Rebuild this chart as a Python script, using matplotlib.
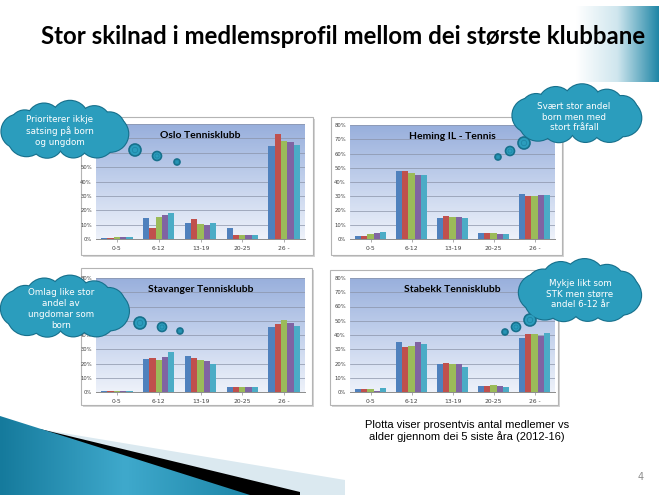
import numpy as np
import matplotlib
matplotlib.use("Agg")
import matplotlib.pyplot as plt
from matplotlib.patches import Rectangle, Circle, Ellipse, Polygon
from matplotlib.colors import LinearSegmentedColormap

W, H = 659, 495

ages = ["0-5", "6-12", "13-19", "20-25", "26 -"]
years = ["2012", "2013", "2014", "2015", "2016"]

# percent of members, rows = age group, columns = year 2012..2016
oslo = [[1.0, 1.0, 1.5, 1.6, 1.5],
        [14.8, 7.5, 15.5, 16.4, 18.4],
        [11.0, 14.0, 10.5, 10.0, 11.0],
        [7.5, 3.0, 3.0, 3.0, 2.5],
        [64.4, 73.2, 68.5, 67.4, 65.5]]
heming = [[1.9, 1.9, 3.8, 4.5, 4.7],
          [47.4, 47.4, 46.5, 45.0, 45.0],
          [15.0, 16.0, 15.7, 15.7, 14.8],
          [4.2, 4.5, 4.0, 3.3, 3.8],
          [31.5, 30.3, 30.3, 30.8, 30.8]]
stavanger = [[0.6, 0.5, 0.7, 0.6, 0.5],
             [23.4, 23.7, 22.5, 24.8, 28.1],
             [25.3, 23.7, 22.5, 21.5, 19.7],
             [3.3, 3.3, 3.3, 3.3, 3.3],
             [45.9, 48.0, 50.4, 48.5, 46.6]]
stabekk = [[2.1, 2.1, 2.1, 1.0, 2.8],
           [34.9, 31.9, 32.3, 35.4, 33.7],
           [19.9, 20.6, 19.9, 19.4, 17.6],
           [4.2, 4.2, 4.9, 4.4, 3.5],
           [38.2, 41.0, 40.7, 39.1, 41.7]]

titles = ["Oslo Tennisklubb", "Heming IL - Tennis",
          "Stavanger Tennisklubb", "Stabekk Tennisklubb"]
notes = [["Prioriterer ikkje", "satsing på born", "og ungdom"],
         ["Svært stor andel", "born men med", "stort fråfall"],
         ["Omlag like stor", "andel av", "ungdomar som", "born"],
         ["Mykje likt som", "STK men større", "andel 6-12 år"]]
# y tick labels hidden behind the callout clouds
hidden_ticks = [[60, 70, 80], [], [50, 60, 70], []]

colors = ["#4F81BD", "#C0504D", "#9BBB59", "#8064A2", "#4BACC6"]
teal = "#2b9dbd"
teal_edge = "#17708c"

fig = plt.figure(figsize=(W / 100, H / 100), dpi=100)
fig.patch.set_facecolor("white")

# background layer in pixel coords
bg = fig.add_axes([0, 0, 1, 1], zorder=0)
bg.set_xlim(0, W)
bg.set_ylim(H, 0)
bg.axis("off")

# top right gradient band
hgrad = np.linspace(0, 1, 256).reshape(1, -1)
bg.imshow(hgrad, extent=[576, W, 82, 6], aspect="auto", zorder=0,
          cmap=LinearSegmentedColormap.from_list("tr", ["white", "#cfe6ee", "#1f86a6"]))

# bottom left swoosh
bg.add_patch(Polygon([(45, 430), (345, 480), (345, 495), (60, 495)], fc="#dbe9f0", ec="none", zorder=1))
bg.add_patch(Polygon([(40, 429), (300, 492), (300, 495), (60, 495)], fc="black", ec="none", zorder=2))
teal_poly = Polygon([(0, 416), (250, 495), (0, 495)], fc="none", ec="none", zorder=3)
bg.add_patch(teal_poly)
im = bg.imshow(hgrad, extent=[0, 250, 495, 416], aspect="auto", zorder=3,
               cmap=LinearSegmentedColormap.from_list("sw", ["#157a9c", "#3fa9cc", "#1d86a8"]))
im.set_clip_path(teal_poly)

bg.text(343, 37, "Stor skilnad i medlemsprofil mellom dei største klubbane",
        ha="center", va="center", fontsize=17.3, fontweight="bold",
        family="Lato", color="black")
bg.text(467, 431, "Plotta viser prosentvis antal medlemer vs\nalder gjennom dei 5 siste åra (2012-16)",
        ha="center", va="center", fontsize=8.0, family="Liberation Sans",
        linespacing=1.1, color="black")
bg.text(641, 477, "4", ha="center", va="center", fontsize=7, color="#8c8c8c")

boxes = [(81, 117, 313, 255), (331, 117, 562, 255),
         (81, 268, 312, 405), (330, 270, 558, 405)]
plots = [(96, 124, 305, 239), (350, 125, 555, 239),
         (96, 278, 305, 392), (350, 278, 555, 392)]
datasets = [oslo, heming, stavanger, stabekk]

vgrad = np.linspace(0, 1, 256).reshape(-1, 1)
pcmap = LinearSegmentedColormap.from_list("pa", ["#98afdc", "#c3d1ec", "#eef2fa"])


def px_axes(x0, y0, x1, y1, z=1):
    return fig.add_axes([x0 / W, 1 - y1 / H, (x1 - x0) / W, (y1 - y0) / H], zorder=z)


for box, pl, title, data, hid in zip(boxes, plots, titles, datasets, hidden_ticks):
    bx0, by0, bx1, by1 = box
    bg.add_patch(Rectangle((bx0 + 1.5, by0 + 1.5), bx1 - bx0, by1 - by0, fc="#d4d4d4", ec="none"))
    bg.add_patch(Rectangle((bx0, by0), bx1 - bx0, by1 - by0, fc="white", ec="#b4b4b4", lw=0.8))

    ax = px_axes(*pl)
    vals = np.array(data)
    x = np.arange(len(ages))
    ax.imshow(vgrad, extent=[-0.5, 4.5, 0, 80], aspect="auto", cmap=pcmap, zorder=0)
    for j in range(len(years)):
        ax.bar(x + (j - 2) * 0.15, vals[:, j], width=0.15, color=colors[j],
               label=years[j], zorder=3)
    ax.set_xlim(-0.5, 4.5)
    ax.set_ylim(0, 80)
    ax.set_yticks(range(0, 81, 10))
    ax.set_yticklabels(["" if v in hid else f"{v}%" for v in range(0, 81, 10)])
    ax.set_xticks(x)
    ax.set_xticklabels(ages)
    ax.yaxis.grid(True, color="#8a93a8", lw=0.5)
    ax.set_axisbelow(True)
    for s in ["top", "right", "left"]:
        ax.spines[s].set_visible(False)
    ax.spines["bottom"].set_color("#8c8c8c")
    ax.spines["bottom"].set_linewidth(0.7)
    ax.tick_params(axis="y", length=0, pad=3, labelsize=3.8, labelcolor="#404040")
    ax.tick_params(axis="x", length=2, width=0.5, color="#8c8c8c", pad=3,
                   labelsize=4.3, labelcolor="#404040")
    ax.text(0.5, 0.94, title, transform=ax.transAxes, ha="center", va="top",
            fontsize=7.5, fontweight="bold", family="Lato", zorder=5)

# overlay for callout clouds
ov = fig.add_axes([0, 0, 1, 1], zorder=5)
ov.set_xlim(0, W)
ov.set_ylim(H, 0)
ov.axis("off")


def cloud(cx, cy, w, h, lines, tx, ty):
    a, b = w / 2, h / 2
    r = h * 0.3
    angs = np.linspace(0, 2 * np.pi, 11, endpoint=False) + 0.25
    lobes = [(cx + (a - r * 0.95) * np.cos(t), cy + (b - r * 0.95) * np.sin(t),
              r * (1.0 + 0.12 * np.sin(3 * t))) for t in angs]
    for lx, ly, lr in lobes:
        ov.add_patch(Circle((lx, ly), lr, fc=teal, ec=teal_edge, lw=1.6, zorder=2))
    for lx, ly, lr in lobes:
        ov.add_patch(Circle((lx, ly), lr, fc=teal, ec="none", zorder=3))
    ov.add_patch(Ellipse((cx, cy), 2 * (a - r * 0.5), 2 * (b - r * 0.5), fc=teal, ec="none", zorder=3))
    ov.text(tx, ty, "\n".join(lines), ha="center", va="center", color="white",
            fontsize=6.3, linespacing=1.25, zorder=4)


def bubbles(pts):
    for bx, by, br in pts:
        ov.add_patch(Circle((bx, by), br, fc=teal, ec=teal_edge, lw=1.2, zorder=2))
        ov.add_patch(Circle((bx, by), br * 0.45, fc="none", ec="#1f86a6", lw=0.6, zorder=3))


cloud(65, 131, 125, 55, notes[0], 60, 131)
bubbles([(135, 150, 6), (157, 156, 4.5), (177, 162, 3)])
cloud(577, 115, 127, 56, notes[1], 574, 117)
bubbles([(524, 143, 6), (510, 151, 4.5), (498, 157, 3)])
cloud(65, 308, 126, 59, notes[2], 61, 309)
bubbles([(140, 323, 6), (162, 327, 4.5), (180, 331, 3)])
cloud(580, 292, 120, 60, notes[3], 580, 294)
bubbles([(530, 320, 6), (516, 327, 4.5), (505, 332, 3)])

fig.savefig("out.png", dpi=100)
